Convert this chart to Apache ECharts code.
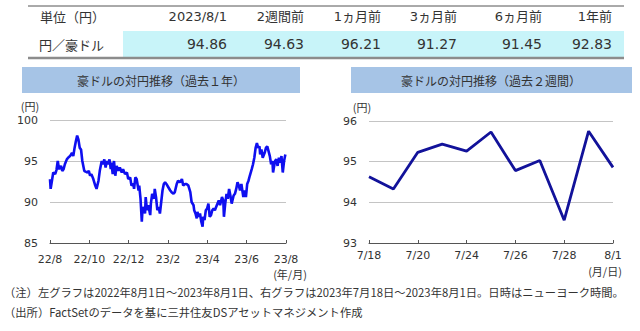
<!DOCTYPE html>
<html>
<head>
<meta charset="utf-8">
<script src="https://cdn.jsdelivr.net/npm/echarts@6/dist/echarts.min.js"></script>
<style>
  html, body { margin: 0; padding: 0; background: #fff; }
  #chart { width: 640px; height: 331px; }
</style>
</head>
<body>
<div id="chart"></div>
<script>
// Summary table
const tableHeaders = ['2023/8/1', '2週間前', '1ヵ月前', '3ヵ月前', '6ヵ月前', '1年前'];
const tableValues = ['94.86', '94.63', '96.21', '91.27', '91.45', '92.83'];

// AUD/JPY over the past year: days elapsed since 2022/8/1 and the rate
const yearDays = [0, 1, 3, 5, 8, 10, 12, 14, 17, 19, 21, 23, 26, 28, 31, 34, 36, 38, 40, 42,
  44, 46, 48, 50, 53, 55, 58, 60, 62, 64, 67, 70, 72, 75, 77, 80, 82, 84, 86, 88,
  90, 92, 94, 95, 97, 99, 101, 103, 106, 108, 111, 113, 116, 119, 121, 124, 126, 129, 130, 132,
  134, 137, 138, 140, 142, 143, 145, 147, 148, 150, 152, 155, 156, 158, 161, 162, 164, 166, 168, 170,
  172, 174, 176, 178, 180, 183, 186, 188, 191, 193, 196, 198, 201, 204, 206, 209, 211, 214, 217, 219,
  222, 223, 225, 227, 228, 230, 232, 234, 236, 237, 239, 241, 243, 245, 247, 249, 251, 253, 255, 258,
  259, 261, 263, 266, 268, 269, 271, 273, 275, 277, 279, 281, 284, 286, 288, 290, 292, 294, 296, 299,
  301, 303, 305, 307, 309, 312, 314, 316, 318, 320, 322, 324, 325, 327, 329, 332, 334, 336, 338, 340,
  342, 344, 345, 348, 350, 352, 354, 356, 358, 360, 362, 364];
const yearValues = [92.8, 91.6, 92.6, 93.6, 93.4, 93.9, 95.0, 94.0, 94.4, 93.8, 94.0, 94.6, 95.2, 95.4, 95.6, 96.0, 95.6, 96.6, 97.4, 98.1,
  97.6, 96.6, 96.4, 95.0, 93.8, 93.7, 93.6, 93.8, 93.2, 93.4, 92.8, 92.0, 91.6, 92.6, 93.8, 95.0, 94.6, 95.2, 94.2, 95.0,
  94.6, 95.2, 94.0, 94.8, 93.4, 95.0, 93.2, 94.4, 93.8, 94.2, 93.6, 94.0, 93.4, 93.6, 92.8, 93.0, 92.0, 92.2, 91.6, 93.0,
  92.8, 91.4, 92.0, 90.4, 87.6, 89.0, 89.4, 88.6, 90.6, 89.0, 89.6, 88.4, 89.8, 91.0, 90.4, 91.6, 90.6, 89.0, 89.4, 88.6,
  90.0, 91.4, 92.2, 92.4, 92.2, 91.8, 91.4, 91.2, 91.0, 91.2, 92.2, 92.6, 92.4, 92.8, 92.0, 92.2, 92.2, 92.0, 91.2, 90.0,
  89.6, 89.0, 88.6, 88.0, 88.8, 88.2, 88.6, 87.6, 87.0, 88.2, 87.8, 89.0, 89.2, 89.8, 88.2, 88.4, 89.0, 89.2, 89.0, 89.6,
  89.8, 90.2, 89.6, 90.6, 90.2, 88.2, 89.8, 91.0, 90.4, 91.6, 90.8, 89.8, 90.8, 91.0, 91.6, 92.4, 92.0, 91.4, 92.2, 90.6,
  91.4, 90.6, 92.2, 92.6, 93.2, 94.0, 94.6, 95.4, 96.6, 97.2, 96.6, 96.8, 95.8, 96.4, 95.4, 96.0, 96.6, 96.8, 96.2, 95.6,
  94.6, 95.0, 93.6, 95.0, 95.2, 94.4, 95.4, 94.8, 95.6, 93.6, 95.0, 95.8];
const yearTickLabels = ['22/8', '22/10', '22/12', '23/2', '23/4', '23/6', '23/8'];

// AUD/JPY over the past two weeks
const weekDates = ['7/18', '7/19', '7/20', '7/21', '7/24', '7/25', '7/26', '7/27', '7/28', '7/31', '8/1'];
const weekValues = [94.63, 94.33, 95.23, 95.43, 95.26, 95.73, 94.78, 95.03, 93.56, 95.75, 94.86];

const notes = [
  '（注）左グラフは2022年8月1日～2023年8月1日、右グラフは2023年7月18日～2023年8月1日。日時はニューヨーク時間。',
  '（出所）FactSetのデータを基に三井住友DSアセットマネジメント作成'
];

const JP = "'Noto Sans CJK JP', sans-serif";
const NUM = "'DejaVu Sans', 'Noto Sans CJK JP', sans-serif";
const TXT = '#333';

const chart = echarts.init(document.getElementById('chart'), null, { renderer: 'svg' });

// table graphics
const colRight = [227, 304, 381, 457, 542, 612];
const tableGraphics = [
  { type: 'rect', shape: { x: 123, y: 31, width: 501, height: 26 }, style: { fill: '#c8f4f9' }, silent: true },
  { type: 'line', shape: { x1: 28, y1: 6, x2: 624, y2: 6 }, style: { stroke: '#555', lineWidth: 1 } },
  { type: 'line', shape: { x1: 28, y1: 58, x2: 624, y2: 58 }, style: { stroke: '#8c8c8c', lineWidth: 2.5 } },
  { type: 'text', x: 40, y: 16, style: { text: '単位（円）', font: '13px ' + JP, fill: TXT, textVerticalAlign: 'middle' } },
  { type: 'text', x: 39, y: 44, style: { text: '円／豪ドル', font: '13px ' + JP, fill: TXT, textVerticalAlign: 'middle' } }
];
tableHeaders.forEach((h, i) => {
  tableGraphics.push({ type: 'text', x: colRight[i], y: 16,
    style: { text: h, font: '13px ' + NUM, fill: TXT, textAlign: 'right', textVerticalAlign: 'middle' } });
  tableGraphics.push({ type: 'text', x: colRight[i], y: 44,
    style: { text: tableValues[i], font: '14px ' + NUM, fill: TXT, textAlign: 'right', textVerticalAlign: 'middle' } });
});

const titleBoxes = [
  { type: 'rect', shape: { x: 22, y: 67, width: 278, height: 26 }, style: { fill: '#a6c4e6' } },
  { type: 'text', x: 161, y: 80, style: { text: '豪ドルの対円推移（過去１年）', font: '12px ' + JP, fill: TXT, textAlign: 'center', textVerticalAlign: 'middle' } },
  { type: 'rect', shape: { x: 351, y: 67, width: 281, height: 26 }, style: { fill: '#a6c4e6' } },
  { type: 'text', x: 491, y: 80, style: { text: '豪ドルの対円推移（過去２週間）', font: '12px ' + JP, fill: TXT, textAlign: 'center', textVerticalAlign: 'middle' } }
];

const unitLabels = [
  { type: 'text', x: 30, y: 106, style: { text: '(円)', font: '11px ' + JP, fill: TXT, textAlign: 'center', textVerticalAlign: 'middle' } },
  { type: 'text', x: 290, y: 274, style: { text: '(年/月)', font: '11px ' + JP, fill: TXT, textAlign: 'center', textVerticalAlign: 'middle' } },
  { type: 'text', x: 362, y: 107, style: { text: '(円)', font: '11px ' + JP, fill: TXT, textAlign: 'center', textVerticalAlign: 'middle' } },
  { type: 'text', x: 605, y: 271, style: { text: '(月/日)', font: '11px ' + JP, fill: TXT, textAlign: 'center', textVerticalAlign: 'middle' } }
];

const noteGraphics = notes.map((t, i) => ({
  type: 'text', x: 4, y: 292 + i * 20,
  style: { text: t, font: '11.3px ' + JP, fill: TXT, textVerticalAlign: 'middle' }
}));

const axisLineStyle = { lineStyle: { color: '#555', width: 1 } };
const splitLineStyle = { show: true, lineStyle: { color: '#c4c4c4', width: 1 } };
const labelStyle = { fontFamily: "'DejaVu Sans', sans-serif", fontSize: 11, color: TXT };

const option = {
  animation: false,
  grid: [
    { left: 50, right: 354, top: 120, bottom: 88 },
    { left: 369, right: 27, top: 121, bottom: 88 }
  ],
  xAxis: [
    {
      gridIndex: 0, type: 'value', min: 0, max: 12, interval: 2,
      axisLine: axisLineStyle,
      axisTick: { show: true, inside: true, length: 3, lineStyle: { color: '#555' } },
      splitLine: { show: false },
      axisLabel: Object.assign({}, labelStyle, { margin: 11, formatter: v => yearTickLabels[Math.round(v / 2)] })
    },
    {
      gridIndex: 1, type: 'category', boundaryGap: false, data: weekDates,
      axisLine: axisLineStyle,
      axisTick: { show: true, inside: true, length: 3, interval: 1, lineStyle: { color: '#555' } },
      axisLabel: Object.assign({}, labelStyle, { margin: 7, interval: 1 })
    }
  ],
  yAxis: [
    {
      gridIndex: 0, type: 'value', min: 85, max: 100, interval: 5,
      axisLine: { show: false }, axisTick: { show: false },
      splitLine: splitLineStyle,
      axisLabel: Object.assign({}, labelStyle, { margin: 12 })
    },
    {
      gridIndex: 1, type: 'value', min: 93, max: 96, interval: 1,
      axisLine: { show: false }, axisTick: { show: false },
      splitLine: splitLineStyle,
      axisLabel: Object.assign({}, labelStyle, { margin: 12 })
    }
  ],
  series: [
    {
      type: 'line', xAxisIndex: 0, yAxisIndex: 0, showSymbol: false,
      data: yearDays.map((d, i) => [d * 12 / 365, yearValues[i]]),
      lineStyle: { color: '#0f0ff0', width: 2.6 }
    },
    {
      type: 'line', xAxisIndex: 1, yAxisIndex: 1, showSymbol: false,
      data: weekValues,
      lineStyle: { color: '#12129a', width: 2.8 }
    }
  ],
  graphic: { elements: [].concat(tableGraphics, titleBoxes, unitLabels, noteGraphics) }
};

chart.setOption(option);
</script>
</body>
</html>
